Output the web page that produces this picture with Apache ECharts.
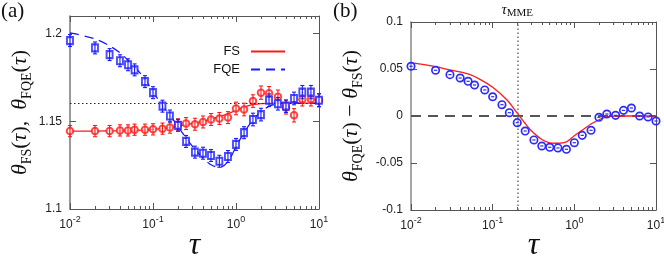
<!DOCTYPE html>
<html><head><meta charset="utf-8">
<script src="https://cdn.jsdelivr.net/npm/echarts@6/dist/echarts.min.js"></script>
<style>html,body{margin:0;padding:0;background:#fff}#c{width:664px;height:258px}</style>
</head><body><div id="c"></div>
<script>
// ---- data ----
const tau = [0.01,0.02,0.03,0.04,0.05,0.06,0.08,0.1,0.13,0.16,0.2,0.25,0.32,0.4,0.5,0.63,0.8,1.0,1.25,1.6,2.0,2.5,3.2,4.0,5.0,6.3,8.0,10];
const fsVal = [1.1444,1.1444,1.1444,1.1448,1.1448,1.1452,1.1452,1.1454,1.1458,1.1464,1.1480,1.1487,1.1483,1.1496,1.1510,1.1516,1.1521,1.1573,1.1567,1.1615,1.1663,1.1660,1.1640,1.1579,1.1534,1.1625,1.1625,1.1620];
const fsErr = [0.0032,0.0032,0.0032,0.0032,0.0032,0.0032,0.0032,0.0032,0.0032,0.0032,0.0034,0.0034,0.0034,0.0034,0.0034,0.0034,0.0034,0.0036,0.0036,0.0036,0.0038,0.0038,0.0038,0.0038,0.0038,0.0038,0.0038,0.0038];
const fqeVal = [1.1960,1.1918,1.1880,1.1845,1.1822,1.1793,1.1726,1.1663,1.1586,1.1530,1.1477,1.1385,1.1324,1.1318,1.1305,1.1272,1.1299,1.1368,1.1435,1.1510,1.1538,1.1620,1.1600,1.1586,1.1630,1.1666,1.1666,1.1620];
const fqeErr = [0.0034,0.0034,0.0034,0.0034,0.0034,0.0034,0.0034,0.0034,0.0034,0.0034,0.0034,0.0034,0.0034,0.0034,0.0034,0.0034,0.0034,0.0034,0.0034,0.0036,0.0036,0.0036,0.0036,0.0036,0.0036,0.0038,0.0038,0.0036];
const fsFitTau = [0.01,0.03,0.06,0.1,0.15,0.2,0.3,0.4,0.5,0.7,1.0,1.3,1.6,2.0,3.0,5.0,10];
const fsFit = [1.1444,1.1445,1.1448,1.1454,1.1462,1.1472,1.1488,1.1500,1.1513,1.1534,1.1562,1.1583,1.1595,1.1601,1.1604,1.1603,1.1603];
const fqeFitTau = [0.01,0.02,0.03,0.04,0.06,0.08,0.1,0.13,0.16,0.2,0.25,0.32,0.4,0.5,0.63,0.8,1.0,1.25,1.6,2.0,2.5,3.2,4.0,10];
const fqeFit = [1.2004,1.1970,1.1930,1.1890,1.1810,1.1740,1.1668,1.1590,1.1535,1.1470,1.1405,1.1340,1.1290,1.1252,1.1236,1.1270,1.1355,1.1435,1.1508,1.1555,1.1585,1.1600,1.1603,1.1603];
const diffVal = [0.0529,0.0486,0.0440,0.0404,0.0369,0.0330,0.0277,0.0205,0.0120,0.0035,-0.0071,-0.0160,-0.0255,-0.0319,-0.0333,-0.0340,-0.0354,-0.0284,-0.0206,-0.0152,-0.0014,0.0021,0.0007,0.0060,0.0085,0.0000,-0.0010,-0.0053];
const diffFitTau = [0.01,0.02,0.03,0.05,0.07,0.1,0.15,0.2,0.25,0.3,0.4,0.5,0.64,0.8,1.0,1.3,1.6,2.0,2.5,3.2,5.0,10];
const diffFit = [0.0567,0.0525,0.0490,0.0447,0.0390,0.0305,0.0170,0.0030,-0.0080,-0.0160,-0.0250,-0.0285,-0.0290,-0.0275,-0.0210,-0.0140,-0.0085,-0.0040,-0.0010,0.0000,0.0000,0.0000];
const majorTicks = [0.01,0.1,1,10];
const minorTicks = [0.02,0.03,0.04,0.05,0.06,0.07,0.08,0.09,0.2,0.3,0.4,0.5,0.6,0.7,0.8,0.9,2,3,4,5,6,7,8,9];
const yTicksA = [1.1,1.15,1.2];
const yTicksB = [-0.1,-0.05,0,0.05,0.1];
const thetaRef = 1.16;
const tauMME = 0.2;
const zeroRef = 0;

// ---- styles ----
const RED = '#ff1a1a', BLUE = '#1a1aff', BLUE2 = '#2b2bff';
const AX = '#555';
const serif = 'Liberation Serif';
const sans = 'Liberation Sans';
const supRich = {
  b: {fontFamily: sans, fontSize: 12, color: '#222', lineHeight: 16, verticalAlign: 'bottom'},
  sup: {fontFamily: sans, fontSize: 9, color: '#222', lineHeight: 16, verticalAlign: 'top'}
};
const titleRich = {
  i: {fontFamily: serif, fontStyle: 'italic', fontSize: 22, color: '#111', lineHeight: 28, verticalAlign: 'middle'},
  n: {fontFamily: serif, fontSize: 22, color: '#111', lineHeight: 28, verticalAlign: 'middle'},
  s: {fontFamily: serif, fontSize: 14, color: '#111', lineHeight: 24, verticalAlign: 'bottom'}
};

function xAxesFor(g) {
  const base = {type: 'log', logBase: 10, min: 0.01, max: 10, gridIndex: g, splitLine: {show: false}};
  return [
    Object.assign({}, base, {position: 'bottom',
      axisLine: {show: true, onZero: false, lineStyle: {color: AX, width: 1}},
      axisTick: {show: true, inside: true, length: 6, customValues: majorTicks, lineStyle: {color: AX}},
      axisLabel: {show: true, margin: 6, customValues: majorTicks,
        formatter: v => '{b|10}{sup|' + Math.round(Math.log10(v)) + '}', rich: supRich}}),
    Object.assign({}, base, {position: 'bottom',
      axisLine: {show: false, onZero: false},
      axisTick: {show: true, inside: true, length: 3, customValues: minorTicks, lineStyle: {color: AX}},
      axisLabel: {show: false}}),
    Object.assign({}, base, {position: 'top',
      axisLine: {show: true, onZero: false, lineStyle: {color: AX, width: 1}},
      axisTick: {show: true, inside: true, length: 6, customValues: majorTicks, lineStyle: {color: AX}},
      axisLabel: {show: false}}),
    Object.assign({}, base, {position: 'top',
      axisLine: {show: false, onZero: false},
      axisTick: {show: true, inside: true, length: 3, customValues: minorTicks, lineStyle: {color: AX}},
      axisLabel: {show: false}})
  ];
}

function yAxesFor(g, min, max, ticks, name, gap, leftColor) {
  return [
    {type: 'value', gridIndex: g, min: min, max: max, position: 'left',
      name: name, nameLocation: 'middle', nameGap: gap, nameRotate: 90, nameTextStyle: {rich: titleRich},
      splitLine: {show: false},
      axisLine: {show: true, onZero: false, lineStyle: {color: leftColor, width: 1.5}},
      axisTick: {show: true, inside: true, length: 6, customValues: ticks, lineStyle: {color: AX}},
      axisLabel: {show: true, margin: 8, customValues: ticks, fontFamily: sans, fontSize: 12, color: '#222'}},
    {type: 'value', gridIndex: g, min: min, max: max, position: 'right',
      splitLine: {show: false},
      axisLine: {show: true, onZero: false, lineStyle: {color: AX, width: 1}},
      axisTick: {show: true, inside: true, length: 6, customValues: ticks, lineStyle: {color: AX}},
      axisLabel: {show: false}}
  ];
}

function errSeries(xi, yi, vals, errs, color, z) {
  return {
    type: 'custom', xAxisIndex: xi, yAxisIndex: yi, z: z, silent: true,
    data: tau.map((t, k) => [t, vals[k] - errs[k], vals[k] + errs[k]]),
    encode: {x: 0, y: [1, 2]},
    renderItem: (params, api) => {
      const x = api.value(0);
      const p1 = api.coord([x, api.value(1)]);
      const p2 = api.coord([x, api.value(2)]);
      const st = {stroke: color, lineWidth: 1.1};
      const w = 2;
      return {type: 'group', children: [
        {type: 'line', shape: {x1: p1[0], y1: p1[1], x2: p2[0], y2: p2[1]}, style: st},
        {type: 'line', shape: {x1: p1[0] - w, y1: p1[1], x2: p1[0] + w, y2: p1[1]}, style: st},
        {type: 'line', shape: {x1: p2[0] - w, y1: p2[1], x2: p2[0] + w, y2: p2[1]}, style: st}
      ]};
    }
  };
}

const nameA = '{i|θ}{s|FS}{n|(}{i|τ}{n|),  }{i|θ}{s|FQE}{n|(}{i|τ}{n|)}';
const nameB = '{i|θ}{s|FQE}{n|(}{i|τ}{n|) − }{i|θ}{s|FS}{n|(}{i|τ}{n|)}';

const legendCommon = {orient: 'vertical', right: 373, align: 'right', itemWidth: 34, itemHeight: 12,
  itemStyle: {opacity: 0},
  textStyle: {fontFamily: sans, fontSize: 13, color: '#111', padding: [0, 6, 0, 0]}};

const tauTitle = (x) => ({type: 'text', silent: true,
  style: {x: x, y: 246, text: 'τ', align: 'center', verticalAlign: 'middle',
    font: 'italic 32px "Liberation Serif"', fill: '#111'}});

const chart = echarts.init(document.getElementById('c'), null, {renderer: 'canvas'});
const option = {
  animation: false,
  backgroundColor: '#fff',
  grid: [
    {left: 70, top: 16, width: 249, height: 193, containLabel: false, outerBoundsMode: 'none'},
    {left: 411, top: 22, width: 245, height: 188, containLabel: false, outerBoundsMode: 'none'}
  ],
  xAxis: [].concat(xAxesFor(0), xAxesFor(1)),
  yAxis: [].concat(
    yAxesFor(0, 1.1, 1.21, yTicksA, nameA, 36, '#777'),
    yAxesFor(1, -0.1, 0.1, yTicksB, nameB, 46, '#888')
  ),
  legend: [
    Object.assign({data: ['FS'], top: 40}, legendCommon),
    Object.assign({data: ['FQE'], top: 58}, legendCommon)
  ],
  graphic: [
    {type: 'text', left: 1, top: 1, style: {text: '(a)', fontFamily: serif, fontSize: 21, fill: '#111'}},
    {type: 'text', left: 333, top: 1, style: {text: '(b)', fontFamily: serif, fontSize: 21, fill: '#111'}},
    tauTitle(194.5),
    tauTitle(533.5)
  ],
  series: [
    // panel a
    {name: 'FS', type: 'line', xAxisIndex: 0, yAxisIndex: 0, symbol: 'none', z: 3,
      data: fsFitTau.map((t, k) => [t, fsFit[k]]), smooth: 0.3,
      lineStyle: {color: RED, width: 1.3}, itemStyle: {color: RED},
      markLine: {silent: true, symbol: 'none', label: {show: false},
        lineStyle: {color: '#222', type: [1.5, 2.5], width: 1.2}, data: [{yAxis: thetaRef}]}},
    {name: 'FQE', type: 'line', xAxisIndex: 0, yAxisIndex: 0, symbol: 'none', z: 3,
      data: fqeFitTau.map((t, k) => [t, fqeFit[k]]), smooth: 0.3,
      lineStyle: {color: BLUE, width: 1.3, type: [9, 6]}, itemStyle: {color: BLUE}},
    {type: 'scatter', xAxisIndex: 0, yAxisIndex: 0, symbol: 'emptyCircle', symbolSize: 6.5, z: 4,
      data: tau.map((t, k) => [t, fsVal[k]]),
      itemStyle: {color: RED, borderColor: RED, borderWidth: 1.2}},
    errSeries(0, 0, fsVal, fsErr, RED, 5),
    {type: 'scatter', xAxisIndex: 0, yAxisIndex: 0, symbol: 'emptyRect', symbolSize: [6, 7], z: 6,
      data: tau.map((t, k) => [t, fqeVal[k]]),
      itemStyle: {color: BLUE, borderColor: BLUE, borderWidth: 1.2}},
    errSeries(0, 0, fqeVal, fqeErr, BLUE, 7),
    // panel b: zero reference line (dashed)
    {type: 'line', xAxisIndex: 4, yAxisIndex: 2, symbol: 'none', z: 2, silent: true,
      data: [[majorTicks[0], zeroRef], [majorTicks[majorTicks.length - 1], zeroRef]],
      lineStyle: {color: '#555', type: [10, 7], width: 2}},
    // panel b fit + tau_MME marker
    {type: 'line', xAxisIndex: 4, yAxisIndex: 2, symbol: 'none', z: 3, smooth: 0.3,
      data: diffFitTau.map((t, k) => [t, diffFit[k]]),
      lineStyle: {color: RED, width: 1.3},
      markLine: {silent: true, symbol: 'none',
        lineStyle: {color: '#777', type: [1.5, 2.5], width: 1.6},
        label: {show: true, position: 'end', distance: 3,
          formatter: '{t|τ}{s|MME}',
          rich: {t: {fontFamily: serif, fontStyle: 'italic', fontSize: 15, color: '#111', lineHeight: 18, verticalAlign: 'middle'},
                 s: {fontFamily: serif, fontSize: 11, color: '#111', lineHeight: 14, verticalAlign: 'bottom'}}},
        data: [{xAxis: tauMME}]}},
    {type: 'custom', xAxisIndex: 4, yAxisIndex: 2, z: 6, silent: true,
      data: tau.map((t, k) => [t, diffVal[k]]),
      encode: {x: 0, y: 1},
      renderItem: (params, api) => {
        const p = api.coord([api.value(0), api.value(1)]);
        return {type: 'group', children: [
          {type: 'circle', shape: {cx: p[0], cy: p[1], r: 3.7}, style: {fill: 'rgba(0,0,0,0)', stroke: BLUE2, lineWidth: 1.7}},
          {type: 'line', shape: {x1: p[0] - 1.6, y1: p[1], x2: p[0] + 1.6, y2: p[1]}, style: {stroke: BLUE2, lineWidth: 1.2}}
        ]};
      }}
  ]
};
chart.setOption(option);
</script>
</body></html>
